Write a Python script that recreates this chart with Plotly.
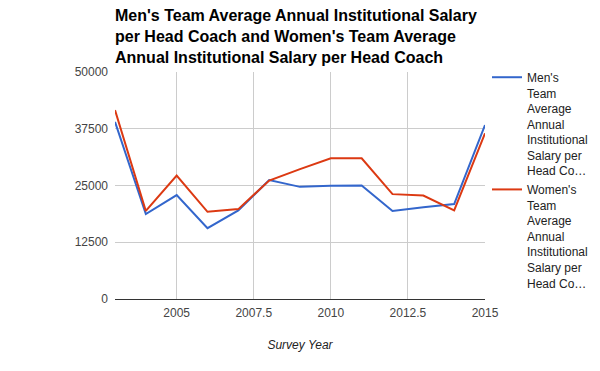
import plotly.graph_objects as go

years = [2003, 2004, 2005, 2006, 2007, 2008, 2009, 2010, 2011, 2012, 2013, 2014, 2015]
mens = [39000, 18700, 22900, 15600, 19500, 26200, 24700, 24950, 25000, 19400, 20200, 20900, 38300]
womens = [41600, 19400, 27200, 19200, 19800, 26100, 28600, 31000, 31000, 23100, 22800, 19500, 36500]

x_tickvals = [2005, 2007.5, 2010, 2012.5, 2015]
x_ticktext = ["2005", "2007.5", "2010", "2012.5", "2015"]
y_tickvals = [0, 12500, 25000, 37500, 50000]
y_ticktext = ["0", "12500", "25000", "37500", "50000"]

title_text = ("Men's Team Average Annual Institutional Salary<br>"
              "per Head Coach and Women's Team Average<br>"
              "Annual Institutional Salary per Head Coach")
men_name = "Men's<br>Team<br>Average<br>Annual<br>Institutional<br>Salary per<br>Head Co…"
women_name = "Women's<br>Team<br>Average<br>Annual<br>Institutional<br>Salary per<br>Head Co…"

FONT = "Arial, Liberation Sans, sans-serif"

fig = go.Figure()
fig.add_trace(go.Scatter(x=years, y=mens, mode="lines", name=men_name,
                         line=dict(color="#3366cc", width=2)))
fig.add_trace(go.Scatter(x=years, y=womens, mode="lines", name=women_name,
                         line=dict(color="#dc3912", width=2)))

fig.update_layout(
    width=600, height=371,
    margin=dict(l=115, r=115, t=72, b=72, autoexpand=False),
    paper_bgcolor="white", plot_bgcolor="white",
    font=dict(family=FONT, size=12, color="#444"),
    title=dict(text=title_text, x=115/600, xref="container", xanchor="left",
               y=1 - 21/371, yref="container", yanchor="top",
               font=dict(family=FONT, size=16, color="#000", weight="bold")),
    showlegend=True,
    legend=dict(x=1.0054, xanchor="left", y=1.04, yanchor="top", valign="top",
                font=dict(family=FONT, size=12, color="#222"), maxheight=320,
                bgcolor="rgba(0,0,0,0)", tracegroupgap=0),
    xaxis=dict(range=[2003, 2015], tickvals=x_tickvals, ticktext=x_ticktext,
               showgrid=True, gridcolor="#cccccc", gridwidth=1,
               zeroline=False, showline=True, linecolor="#333333", linewidth=1,
               ticks="", ticklabelstandoff=3, tickfont=dict(size=12, color="#444"),
               title=dict(text="<i>Survey Year</i>", font=dict(size=12, color="#222"), standoff=21)),
    yaxis=dict(range=[0, 50000], tickvals=y_tickvals, ticktext=y_ticktext,
               showgrid=True, gridcolor="#cccccc", gridwidth=1,
               zeroline=False, showline=False, ticks="", ticklabelstandoff=6,
               tickfont=dict(size=12, color="#444")),
)

fig.write_html("out.html", config={"displayModeBar": False},
               post_script="document.body.style.margin='0';")
